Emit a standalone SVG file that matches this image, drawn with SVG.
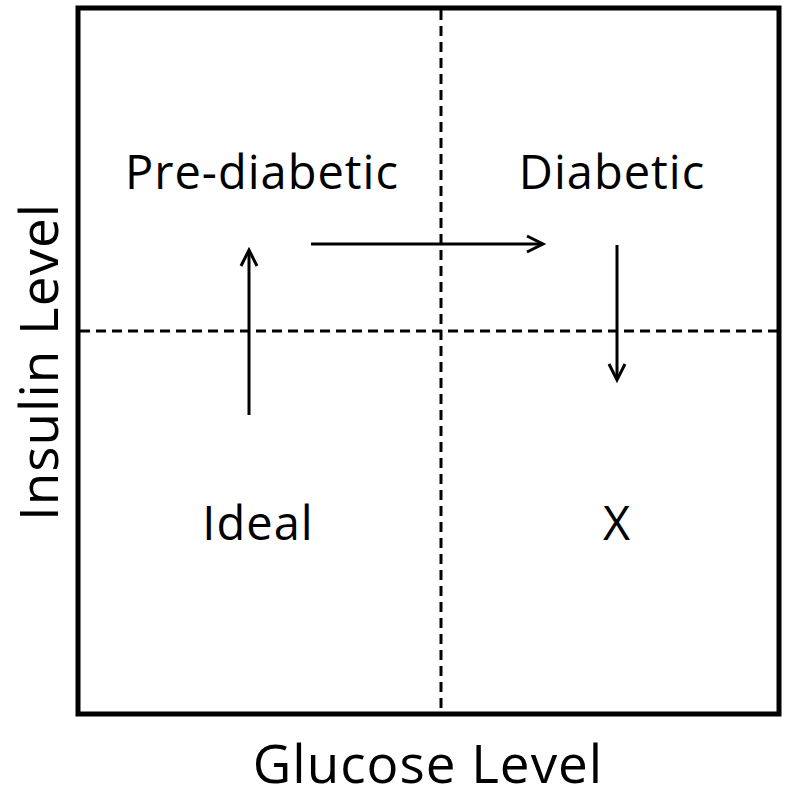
<svg xmlns="http://www.w3.org/2000/svg" width="789" height="800" viewBox="0 0 789 800">
<style>
.t{font-family:"Open Sans","Liberation Sans",sans-serif;fill:#000;text-anchor:middle}
.l{font-size:47px;letter-spacing:1px}.a{font-size:53px;letter-spacing:1px}
.d{stroke:#000;stroke-width:3;stroke-dasharray:10,6;fill:none}
.c{stroke:#000;stroke-width:3;fill:none}
</style>
<g id="frame"><rect x="78" y="8" width="701" height="706" fill="none" stroke="#000" stroke-width="5"/>
<line class="d" x1="441" y1="10" x2="441" y2="712"/><line class="d" x1="80" y1="331" x2="777" y2="331"/></g>
<g id="prediabetic"><text class="t l" x="262" y="189">Pre-diabetic</text></g>
<g id="diabetic"><text class="t l" x="612" y="189">Diabetic</text></g>
<g id="ideal"><text class="t l" x="258" y="540">Ideal</text></g>
<g id="x"><text class="t l" x="617" y="540">X</text></g>
<g id="axes"><text class="t a" x="428" y="783">Glucose Level</text>
<text class="t a" transform="translate(58,362) rotate(-90)">Insulin Level</text></g>
<g id="connectors">
<line class="c" x1="249" y1="415" x2="249" y2="252"/><path class="c" d="M241,266 L249,250 L257,266"/>
<line class="c" x1="311" y1="244" x2="541" y2="244"/><path class="c" d="M527,236 L543,244 L527,252"/>
<line class="c" x1="617" y1="245" x2="617" y2="378"/><path class="c" d="M609,364 L617,380 L625,364"/>
</g>
</svg>
